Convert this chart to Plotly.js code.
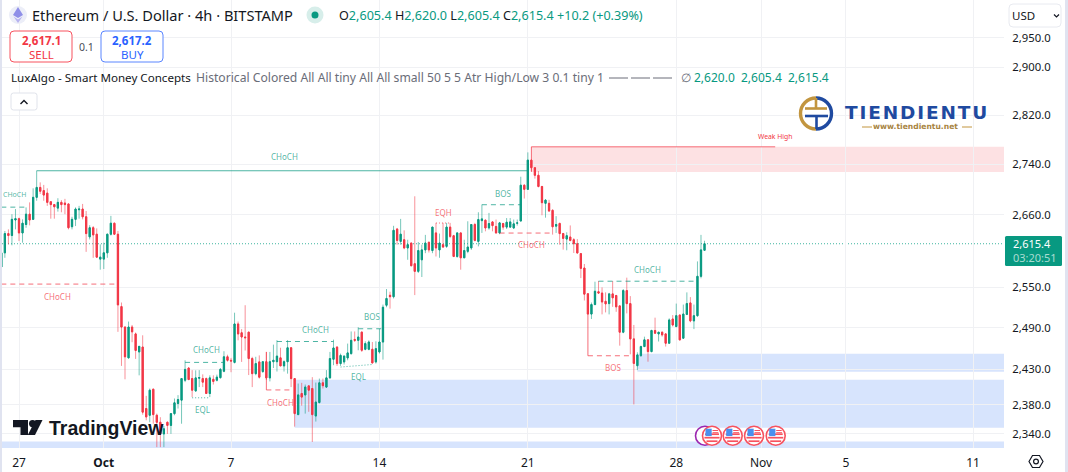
<!DOCTYPE html>
<html><head><meta charset="utf-8">
<script src="https://cdn.plot.ly/plotly-3.0.1.min.js"></script>
<style>html,body{margin:0;padding:0;background:#fff;overflow:hidden}#c{width:1068px;height:472px}</style>
</head><body><div id="c"></div>
<script>
const firstBar = '2024-09-26T04:00:00Z';
const open = [2580,2601.5,2631,2628,2652,2654,2632,2645,2661,2653,
2687.4,2703,2698,2694,2680.5,2676,2670.5,2679.5,2678.4,2677,
2641.6,2653,2668,2669,2657,2626,2640,2630,2592,2592,
2601.5,2630,2647,2630,2521,2491,2446.5,2491,2481,2455,
2462,2375,2365.7,2402,2365.7,2356,2340,2356,2351.7,2368,
2382,2386.7,2414.7,2432,2417,2399.7,2417.5,2417,2417,2396,
2416,2414.7,2418.3,2427.4,2448,2443,2440,2495.5,2482.7,2476.5,
2483.6,2445.5,2424,2440.7,2427,2441,2418,2441,2441,2446.5,
2435,2441,2461,2417,2366.6,2396,2394,2406.7,2403,2364.7,
2383.4,2411,2405,2418,2444.5,2462,2438.3,2440.7,2446.4,2452.6,
2473,2471.7,2483.6,2458.8,2458.8,2458.8,2440.7,2455,2469.3,2523,
2537.7,2535.6,2638,2619,2621.5,2609,2616.5,2585,2573.5,2591,
2606,2617.5,2605,2632,2606,2614,2611.4,2641,2627.7,2596,
2632,2594,2603.8,2609,2645,2619,2651,2651.7,2639.7,2649,
2642,2632,2646.5,2641,2641,2639.7,2647,2650.4,2706.5,2700,
2746.5,2734.4,2722.3,2704.5,2678,2678,2667,2642.5,2646.7,2631,
2622.6,2625.7,2621.5,2615.4,2600.3,2578.5,2540,2510,2524,2543,
2541,2528.8,2525.4,2539.8,2537.4,2522,2483.5,2544.7,2525.4,2473.8,
2435.3,2449.7,2462.7,2472.4,2455.5,2486,2481,2483.5,2481,2467.5,
2502.7,2491.7,2508.5,2474.8,2509.5,2526.4,2500,2507.6,2566,2605.4];
const high = [2601.5,2635,2637.5,2661,2669,2655.6,2653,2671.6,2679.5,2701.6,
2729.6,2711,2707,2701.6,2681,2677,2686,2683,2685,2677.5,
2657,2671.6,2674,2677,2666,2644,2642.6,2639,2614.4,2617,
2631,2658.4,2648,2635,2527,2492,2499,2494,2483,2463.6,
2479,2392.7,2403,2403,2368,2363,2351,2357,2368,2389,
2393.7,2417.5,2443,2433,2429,2428.7,2429,2423,2418.5,2421.6,
2421.6,2422.6,2432,2456,2451,2446.4,2512,2499,2488,2523,
2484,2448,2448,2450,2441,2455,2455,2465.5,2472,2461,
2443,2472,2462,2417.5,2410,2411,2408.6,2407.7,2419,2411.4,
2417,2417,2429,2455,2472.7,2463,2452.6,2450,2467,2484.6,
2484.6,2490.8,2484.6,2470.3,2471.7,2469.3,2470.3,2488.4,2524,2547,
2543,2643,2639.7,2653.7,2636,2621.5,2617,2689,2618,2614,
2629,2619,2641.3,2647.5,2631,2647.5,2647.5,2647.5,2629,2633,
2632.5,2621.5,2650,2645,2647.5,2664,2676,2652.7,2663,2650,
2652.7,2649,2647.5,2655,2655,2652.7,2652.7,2720,2708,2759,
2747.5,2734.6,2729,2705.5,2684.5,2683.5,2668.8,2658,2647.8,2632,
2633,2643.6,2624,2622.5,2601.3,2584.6,2541,2527,2558,2559,
2549.5,2542,2541.3,2559,2538.4,2523,2547,2564,2536.5,2494,
2454.5,2464,2477,2473.3,2487,2504.7,2483.5,2484.4,2482,2503.7,
2508.5,2525.4,2509.5,2524,2542,2535,2524,2588.5,2629,2620];
const low = [2578.4,2594,2614.4,2613,2637.5,2619.5,2617,2640,2643.7,2652,
2682,2692.7,2682,2674,2654,2654,2665,2664,2661,2637.5,
2637.5,2642.6,2654,2653,2603,2622,2594,2594,2576,2577,
2594,2628,2629.5,2484,2435,2416,2445.5,2469,2445,2421.6,
2366.5,2358.7,2356,2354,2322,2322,2322,2340,2340,2365.7,
2375,2354,2412,2415,2391,2398.3,2405,2405,2396,2391,
2408.6,2413,2417,2426,2441,2426,2438.5,2471.7,2440.7,2457,
2422,2405,2421.7,2417,2425,2415,2413,2432,2427,2435,
2427,2424,2405,2350,2366,2379,2368,2370.5,2329,2357,
2382,2403,2404,2417,2436,2435,2435,2437,2443,2451,
2469.3,2457.4,2455,2457.4,2457.4,2438.3,2438.3,2452.6,2444,2520,
2518,2533,2614,2614,2607,2591,2581,2538,2571,2565,
2601,2602,2601,2596,2594,2609,2609,2624,2595,2594,
2576,2593.5,2601,2606,2619,2611.4,2632,2634.5,2637,2634.5,
2631,2630,2637,2638,2639.7,2638,2643.3,2650,2685.5,2699,
2729,2717,2703,2659.3,2655.6,2664.5,2629.4,2632,2614,2606.4,
2605.4,2619,2601.3,2600.3,2563.4,2530,2510,2502.7,2523,2540,
2509.5,2512.4,2509.5,2520.6,2513.3,2464,2482,2511,2451.6,2380.8,
2429,2448,2462,2441,2454.5,2481,2470,2477,2462.7,2467,
2491.7,2490.7,2471.4,2473.8,2508.5,2498,2488,2506,2563,2605.4];
const close = [2601.5,2631,2628,2653,2654,2632,2647,2661,2652,2687.4,
2703,2697,2691,2679.5,2676,2672.6,2679.5,2676,2676,2640,
2653,2669,2669,2657,2631,2640,2629,2595,2595,2601.5,
2630,2647,2630,2523.5,2491,2448,2491,2484,2457,2463,
2370,2363.4,2400.6,2366.6,2356,2340,2347,2351.7,2368,2383,
2387.6,2417,2430,2415.6,2400.7,2418,2418.5,2412,2396,2418,
2413,2419,2430,2448,2443,2442,2495.5,2481,2476.5,2475.5,
2445.5,2424,2438.3,2419,2441,2418,2441,2443,2449,2435,
2441,2461,2417,2368,2394,2391,2405,2400.7,2366.6,2384,
2411,2407,2418,2445.5,2460.7,2438.3,2450,2449,2453.6,2471.7,
2471.7,2476.5,2457.4,2467,2469.3,2439.3,2459.7,2469.3,2520,2533,
2535.6,2636,2620.5,2630,2609,2614,2582,2573.5,2605,2606,
2616.5,2606,2641,2609,2616.5,2610.4,2641,2626.7,2596,2632,
2594,2605,2610.4,2645,2620.5,2652.7,2653.7,2639.7,2646.5,2643.3,
2632,2647.5,2641,2648.5,2649,2646,2647.5,2706.5,2700,2746.5,
2734.4,2722.3,2704.5,2679,2683,2666,2641.5,2645,2631,2623.6,
2627.8,2620.5,2615.4,2601.3,2578,2539.4,2510,2524,2543.7,2541,
2527.8,2525,2539.8,2534,2520.6,2483.5,2544.7,2525.4,2473.8,2438.6,
2450.7,2462.7,2472.4,2455.5,2486,2482,2483.5,2479.6,2467.5,2501.3,
2494,2507.6,2472.4,2510,2525.4,2500,2507.6,2566,2606,2615.4];

const priceTicks = [2950,2900,2820,2740,2660,2550,2490,2430,2380,2340];
const priceTickText = ['2,950.0','2,900.0','2,820.0','2,740.0','2,660.0','2,550.0','2,490.0','2,430.0','2,380.0','2,340.0'];
const dateTicks = ['2024-09-27','2024-10-01','2024-10-07','2024-10-14','2024-10-21','2024-10-28','2024-11-01','2024-11-05','2024-11-11'];
const dateTickText = ['27','<b>Oct</b>','7','14','21','28','Nov','5','11'];
const lastPrice = 2615.4;

// Smart-money structure: bar index from/to, price from/to, kind
const smcFrom  = [10,0,0,52,54,78,101,96,75,75,136,123,141,169,166,166,150,150];
const smcTo    = [149,7,33,63,59,94,108,105,82,75,147,127,156,197,179,166,219,150];
const smcY0    = [2729.5,2672,2554.4,2440,2390,2470,2488.5,2433.4,2401,2401,2675.8,2647.3,2631.8,2558.7,2449.5,2449.5,2768,2768];
const smcY1    = [2729.5,2672,2554.4,2440,2390,2470,2488.5,2437,2401,2455,2675.8,2647.3,2631.8,2558.7,2449.5,2510,2768,2727.5];
const smcKind  = ['gs','gd','rd','gd','gt','gd','gd','gt','rd','rs','gd','rt','rd','gd','rd','rs','rs','rs'];

// Order blocks: start bar, top price, bottom price
const zoneFrom = [180,83,0,150];
const zoneTop  = [2452.4,2415.3,2329.7,2768];
const zoneBot  = [2426.7,2348.5,2320,2727.5];
const zoneKind = ['b','b','b','r'];

// Structure labels: bar, price, text, colour kind
const labelBar  = [80,3.6,16,58,57,89,105,101,79,142,125,150,183,173,219];
const labelY    = [2752,2692,2536,2458,2373,2487.5,2506,2420,2383,2694,2663,2614,2577,2433,2785];
const labelText = ['CHoCH','CHoCH','CHoCH','CHoCH','EQL','CHoCH','BOS','EQL','CHoCH','BOS','EQH','CHoCH','CHoCH','BOS','Weak High'];
const labelKind = ['g','g','r','g','g','g','g','g','r','g','r','r','g','r','w'];
</script>
<script>
const GREEN='#089981',RED='#f23645',BLUE='#2962ff',INK='#131722',GRAY='#6a6d78';
const GA='rgba(8,153,129,0.72)',RA='rgba(242,54,69,0.72)';
const FONT='"Noto Sans", "Open Sans", sans-serif';
const X0=2,X1=1004,Y0=0,Y1=448;
const barMs=4*3600*1000,t0=Date.parse(firstBar);
const barTime=i=>new Date(t0+i*barMs).toISOString().slice(0,19).replace('T',' ');
const times=close.map((_,i)=>barTime(i));
const px=x=>(x-X0)/(X1-X0), py=y=>1-(y-Y0)/(Y1-Y0);

function pathOf(cmds){return cmds.map(c=>c[0]+(c.length>1?' '+c.slice(1).reduce((a,v,i)=>a+(i?(i%2?',':' '):'')+(i%2?py(v):px(v)),''):'')).join(' ');}
function shapePath(cmds,fill,line,w){return {type:'path',xref:'paper',yref:'paper',path:pathOf(cmds),fillcolor:fill||'rgba(0,0,0,0)',line:{color:line||'rgba(0,0,0,0)',width:w||0},layer:'above'};}
function rrect(a,b,c,d,r,fill,line,w){return shapePath([['M',a+r,b],['L',c-r,b],['Q',c,b,c,b+r],['L',c,d-r],['Q',c,d,c-r,d],['L',a+r,d],['Q',a,d,a,d-r],['L',a,b+r],['Q',a,b,a+r,b],['Z']],fill,line,w);}
function circ(cx,cy,r,fill,line,w){return {type:'circle',xref:'paper',yref:'paper',x0:px(cx-r),x1:px(cx+r),y0:py(cy+r),y1:py(cy-r),fillcolor:fill||'rgba(0,0,0,0)',line:{color:line||'rgba(0,0,0,0)',width:w||0},layer:'above'};}
function rect(a,b,c,d,fill){return {type:'rect',xref:'paper',yref:'paper',x0:px(a),x1:px(c),y0:py(d),y1:py(b),fillcolor:fill,line:{width:0},layer:'above'};}
function seg(a,b,c,d,col,w){return {type:'line',xref:'paper',yref:'paper',x0:px(a),x1:px(c),y0:py(b),y1:py(d),line:{color:col,width:w||1},layer:'above'};}
function txt(x,y,text,size,color,anchor,family){return {xref:'paper',yref:'paper',x:px(x),y:py(y),text:text,showarrow:false,xanchor:anchor||'left',yanchor:'middle',borderpad:0,align:anchor||'left',font:{size:size,color:color,family:family||FONT}};}

const shapes=[],annotations=[];
// zones
zoneFrom.forEach((f,i)=>shapes.push({type:'rect',xref:'x',yref:'y',x0:barTime(f),x1:barTime(290),y0:zoneBot[i],y1:zoneTop[i],
  fillcolor:zoneKind[i]==='b'?'rgba(41,110,245,0.19)':'rgba(242,54,69,0.15)',line:{width:0},layer:'below'}));
// last price line
shapes.push({type:'line',xref:'paper',yref:'y',x0:0,x1:1,y0:lastPrice,y1:lastPrice,line:{color:'#3fb5a0',width:1,dash:'1px,2px'},layer:'below'});
// structure
const kindStyle={gs:[GA,1,'solid'],gd:[GA,1,'5px,4px'],gt:[GA,1,'1px,2px'],rs:[RA,1,'solid'],rd:[RA,1,'5px,4px'],rt:[RA,1,'1px,2px']};
smcFrom.forEach((f,i)=>{const s=kindStyle[smcKind[i]];shapes.push({type:'line',xref:'x',yref:'y',x0:barTime(f),x1:barTime(smcTo[i]),y0:smcY0[i],y1:smcY1[i],line:{color:s[0],width:s[1],dash:s[2]},layer:'above'});});

// labels (annotations on a log axis take log10 of the price)
labelBar.forEach((b,i)=>{const k=labelKind[i];
 annotations.push({xref:'x',yref:'y',x:barTime(b),y:Math.log10(labelY[i]),text:labelText[i],showarrow:false,xanchor:'center',yanchor:'middle',borderpad:0,
  font:{size:k==='w'?6.8:(i===1?7:8),color:k==='g'?GA:k==='r'?RA:RED,family:FONT}});});

// header
shapes.push(circ(18,15,9,'#eceef8'));
shapes.push(shapePath([['M',18,7],['L',23,15],['L',18,18],['L',13,15],['Z']],'#8f8fe8'));
shapes.push(shapePath([['M',18,19.5],['L',22.5,16.5],['L',18,23],['L',13.5,16.5],['Z']],'#b6b2f0'));
annotations.push(txt(31,15,'Ethereum / U.S. Dollar · 4h · BITSTAMP',14.6,INK));
shapes.push(circ(315,15,8.5,'#d7eeea'));
shapes.push(circ(315,15,3.5,GREEN));
const v=s=>'<span style="color:'+GREEN+'">'+s+'</span>';
annotations.push(txt(338,15,'O'+v('2,605.4')+' H'+v('2,620.0')+' L'+v('2,605.4')+' C'+v('2,615.4')+' '+v('+10.2 (+0.39%)'),12.6,INK));
// sell / buy
shapes.push(rrect(10,31,72,62,4,'#ffffff','#f7525f',1));
shapes.push(rrect(101,31,163,62,4,'#ffffff','#5b86ff',1));
annotations.push(txt(41,41,'<b>2,617.1</b>',11.5,'#f23645','center'));
annotations.push(txt(41,54,'SELL',11.5,'#f23645','center'));
annotations.push(txt(86,47,'0.1',10.5,'#4a4d57','center'));
annotations.push(txt(132,41,'<b>2,617.2</b>',11.5,BLUE,'center'));
annotations.push(txt(132,54,'BUY',11.5,BLUE,'center'));
// indicator line
annotations.push(txt(10,78,'LuxAlgo - Smart Money Concepts',11.6,INK));
annotations.push(txt(194.5,78,'Historical Colored All All tiny All All small 50 5 5 Atr High/Low 3 0.1 tiny 1',12.15,GRAY));
shapes.push(seg(609,78,628,78,GRAY,1));
shapes.push(seg(631,78,650,78,GRAY,1));
shapes.push(seg(653,78,672,78,GRAY,1));
annotations.push(txt(680,78,'∅',11.5,GRAY));
annotations.push(txt(693,78,'2,620.0  2,605.4  2,615.4',12,GREEN));
shapes.push(rrect(11,93,37,110,2.5,'#ffffff','#e0e3eb',1));
shapes.push(shapePath([['M',20.5,104],['L',24,100.5],['L',27.5,104]],null,INK,1.4));

// USD selector
shapes.push(rrect(1009,4,1061,27,4,'#ffffff','#e8eaf0',1));
annotations.push(txt(1011.5,15,'USD',11.5,INK));
shapes.push(shapePath([['M',1054,14.5],['L',1056.5,17],['L',1059,14.5]],null,INK,1.2));
// price tag
shapes.push(rrect(1005,236,1062,266,1.5,GREEN));
annotations.push(txt(1012,250.5,'2,615.4<br><span style="color:#a8dcd2">03:20:51</span>',11,'#ffffff'));
// settings hexagon
shapes.push(shapePath([['M',1029,461.5],['L',1032.5,455.5],['L',1039.5,455.5],['L',1043,461.5],['L',1039.5,467.5],['L',1032.5,467.5],['Z']],null,INK,1.2));
shapes.push(circ(1036,461.5,2.4,null,INK,1.2));
// frame strips
shapes.push(rect(0,0,2,472,'#e0e3f0'));
shapes.push(rect(1065,0,1068,472,'#e0e3f0'));

// TradingView watermark
shapes.push(shapePath([['M',13,420],['L',28,420],['L',28,435],['L',20.5,435],['L',20.5,427.2],['L',13,427.2],['Z']],INK));
shapes.push(circ(32.6,423.6,3.6,INK));
shapes.push(shapePath([['M',35.5,420],['L',42.5,420],['L',35,435],['L',27.8,435],['Z']],INK));
annotations.push(txt(48,427.5,'<b>TradingView</b>',19.5,INK,'left','"Liberation Sans", sans-serif'));

// Tiendientu logo
const GOLD='#c2953f',NAVY='#1f4aa0';
const cbez=(cx,cy,r,sgn)=>{const k=.5523*r;return [['M',cx,cy-r],['C',cx+sgn*k,cy-r,cx+sgn*r,cy-k,cx+sgn*r,cy],['C',cx+sgn*r,cy+k,cx+sgn*k,cy+r,cx,cy+r]];};
shapes.push(shapePath(cbez(816,113.5,15.5,-1),null,GOLD,3.4));
shapes.push(shapePath(cbez(816,113.5,15.5,1),null,NAVY,3.4));
shapes.push(seg(805,108.5,827,108.5,GOLD,2.6));
shapes.push(seg(816,98,816,108.5,GOLD,2.6));
shapes.push(seg(805,116,828,116,NAVY,2.6));
shapes.push(seg(816.5,116,816.5,129,NAVY,2.6));
annotations.push(txt(844,112,'<b>T\u200aI\u200aE\u200aN\u200aD\u200aI\u200aE\u200aN\u200aT\u200aU</b>',18.5,NAVY,'left','"DejaVu Sans", sans-serif'));
annotations.push(txt(915.5,127,'<b>www.tiendientu.net</b>',7.6,'#a8843f','center','"DejaVu Sans", sans-serif'));
shapes.push(seg(862,127,872,127,GOLD,1));
shapes.push(seg(962,127,972,127,GOLD,1));

// news flags
shapes.push(circ(705,435.7,9.5,'#ffffff','#9c27b0',1.6));
[712,732.7,754,775.7].forEach(x=>{const y=435.7;
 shapes.push(circ(x,y,9.5,'#ffffff','#f7525f',1.6));
 [[-7,7,-1.5],[-7.6,7.6,2],[-5.5,5.5,5.5]].forEach(s=>shapes.push(seg(x+s[0],y+s[2],x+s[1],y+s[2],'#f7525f',1.7)));
 [[0.5,7,-5.2],[0.5,7.4,-3]].forEach(s=>shapes.push(seg(x+s[0],y+s[2],x+s[1]-1,y+s[2],'#f7525f',1)));
 shapes.push(rect(x-6.5,y-7,x-.3,y+.4,'#4a90ee'));
});

const wick={type:'candlestick',x:times,open:open,high:high,low:low,close:close,hoverinfo:'skip',whiskerwidth:0,showlegend:false,
 increasing:{line:{color:'rgba(8,153,129,0.55)',width:1},fillcolor:'rgba(0,0,0,0)'},
 decreasing:{line:{color:'rgba(242,54,69,0.55)',width:1},fillcolor:'rgba(0,0,0,0)'}};
const body={type:'candlestick',x:times,open:open,close:close,
 high:open.map((o,i)=>Math.max(o,close[i])),low:open.map((o,i)=>Math.min(o,close[i])),hoverinfo:'skip',whiskerwidth:0,showlegend:false,
 increasing:{line:{color:GREEN,width:1},fillcolor:GREEN},
 decreasing:{line:{color:RED,width:1},fillcolor:RED}};

const layout={width:1068,height:472,margin:{l:2,r:64,t:0,b:24,pad:0},paper_bgcolor:'#fff',plot_bgcolor:'#fff',
 boxgap:0.5,dragmode:false,showlegend:false,font:{family:FONT,color:INK},
 xaxis:{type:'date',range:['2024-09-26 04:45','2024-11-12 11:00'],tickmode:'array',tickvals:dateTicks,ticktext:dateTickText,
   showgrid:true,gridcolor:'#f0f1f4',gridwidth:1,zeroline:false,showline:false,ticks:'outside',ticklen:4,tickcolor:'rgba(0,0,0,0)',rangeslider:{visible:false},
   tickfont:{size:12,color:INK,family:FONT},automargin:false,fixedrange:true},
 yaxis:{type:'log',side:'right',range:[3.36564,3.47947],tickmode:'array',tickvals:priceTicks,ticktext:priceTickText,
   showgrid:true,gridcolor:'#f0f1f4',gridwidth:1,zeroline:false,showline:false,ticks:'outside',ticklen:5,tickcolor:'rgba(0,0,0,0)',
   tickfont:{size:11.3,color:INK,family:FONT},automargin:false,fixedrange:true},
 shapes:shapes,annotations:annotations};
Plotly.newPlot('c',[wick,body],layout,{displayModeBar:false,staticPlot:true,responsive:false});
</script>
</body></html>
